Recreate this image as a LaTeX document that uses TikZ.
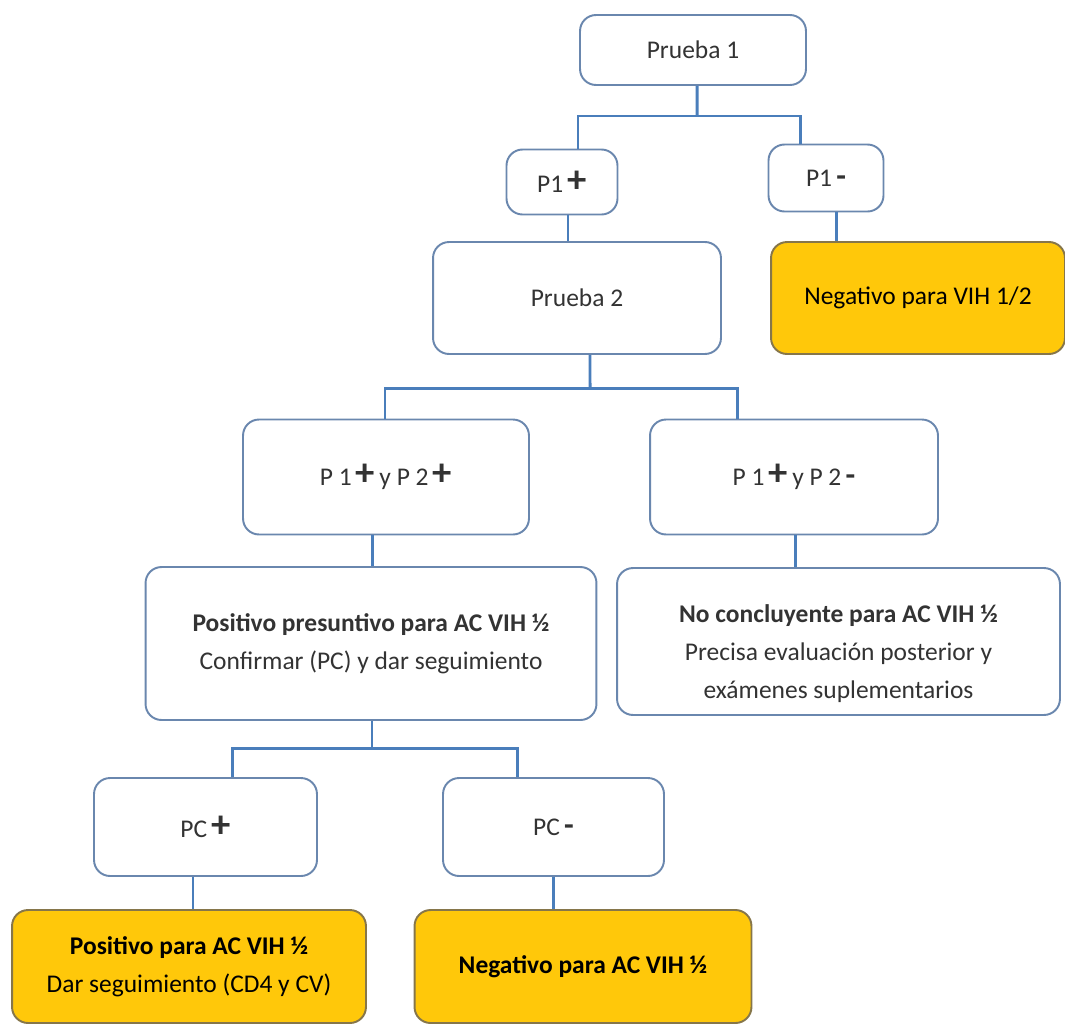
\documentclass[tikz,border=0pt]{standalone}
\usepackage{fontspec}
\setmainfont{Carlito}
\usepackage{tikz}
\usetikzlibrary{positioning}

\definecolor{boxline}{HTML}{6A87AE}
\definecolor{linkblue}{HTML}{4A7EBB}
\definecolor{resyellow}{HTML}{FFC80A}
\definecolor{resline}{HTML}{86764A}
\definecolor{txtgray}{HTML}{333333}

\newcommand{\pluss}{{\fontsize{22}{22}\selectfont\bfseries +}}
\newcommand{\minuss}{{\fontsize{18}{18}\selectfont\bfseries -}}

\begin{document}
\begin{tikzpicture}[
  x=0.02cm, y=-0.02cm,
  box/.style={draw=boxline, line width=1.1pt, rounded corners=0.32cm, fill=white, inner sep=0pt,
    align=center, text=txtgray, font=\fontsize{14.5}{21.6}\selectfont},
  result/.style={box, draw=resline, fill=resyellow, text=black},
  link/.style={draw=linkblue, line width=1.7pt}
]
\useasboundingbox (0,0) rectangle (1065,1025);

% first test
\node[box, minimum width=4.52cm, minimum height=1.40cm] (prueba1) at (693,50) {Prueba 1};
\node[box, minimum width=2.22cm, minimum height=1.30cm] (p1pos) at (562,182) {P1\,\pluss};
\node[box, minimum width=2.30cm, minimum height=1.34cm] (p1neg) at (826,178) {P1\,\minuss};

% second test
\node[box, minimum width=5.76cm, minimum height=2.24cm] (prueba2) at (577,298) {Prueba 2};
\node[result, minimum width=5.88cm, minimum height=2.24cm] (negvih) at (918,298) {Negativo para VIH 1/2};

\node[box, minimum width=5.72cm, minimum height=2.30cm] (pp) at (386,477)
  {P 1\,\pluss\,y P 2\,\pluss};
\node[box, minimum width=5.76cm, minimum height=2.30cm] (pn) at (794,477)
  {P 1\,\pluss\,y P 2\,\minuss};

\node[box, minimum width=9.02cm, minimum height=3.06cm] (presunt) at (371,643.5)
  {\textbf{Positivo presuntivo para AC VIH ½}\\Confirmar (PC) y dar seguimiento};
\node[box, minimum width=8.86cm, minimum height=2.94cm] (noconc) at (838.5,641.5)
  {\rule{0pt}{0.84cm}\textbf{No concluyente para AC VIH ½}\\Precisa evaluación posterior y\\exámenes suplementarios};

% confirmatory test
\node[box, minimum width=4.46cm, minimum height=1.96cm] (pcpos) at (205.5,827) {PC\,\pluss};
\node[box, minimum width=4.42cm, minimum height=1.96cm] (pcneg) at (553.5,827) {PC\,\minuss};

\node[result, minimum width=7.08cm, minimum height=2.26cm] (pospara) at (189,966.5)
  {\textbf{Positivo para AC VIH ½}\\Dar seguimiento (CD4 y CV)};
\node[result, minimum width=6.74cm, minimum height=2.26cm] (negpara) at (583,966.5)
  {\textbf{Negativo para AC VIH ½}};

% connectors
\coordinate (j1) at (697,116);
\coordinate (j2) at (590,388);
\coordinate (j3) at (372,748);
\draw[link] ([xshift=0.08cm]prueba1.south) -- (j1);
\draw[link] ([xshift=0.32cm]p1pos.north) |- (j1) -| ([xshift=-0.52cm]p1neg.north);
\draw[link] ([xshift=0.12cm]p1pos.south) -- ([xshift=0.12cm]p1pos.south |- prueba2.north);
\draw[link] ([xshift=0.20cm]p1neg.south) -- ([xshift=0.20cm]p1neg.south |- negvih.north);
\draw[link] ([xshift=0.26cm]prueba2.south) -- (j2);
\draw[link] ([xshift=-0.02cm]pp.north) |- (j2) -| ([xshift=-1.14cm]pn.north);
\draw[link] ([xshift=-0.28cm]pp.south) -- ([xshift=-0.28cm]pp.south |- presunt.north);
\draw[link] ([xshift=0.02cm]pn.south) -- ([xshift=0.02cm]pn.south |- noconc.north);
\draw[link] ([xshift=0.02cm]presunt.south) -- (j3);
\draw[link] ([xshift=0.54cm]pcpos.north) |- (j3) -| ([xshift=-0.72cm]pcneg.north);
\draw[link] ([xshift=-0.25cm]pcpos.south) -- ([xshift=-0.25cm]pcpos.south |- pospara.north);
\draw[link] (pcneg.south) -- (pcneg.south |- negpara.north);
\end{tikzpicture}
\end{document}
